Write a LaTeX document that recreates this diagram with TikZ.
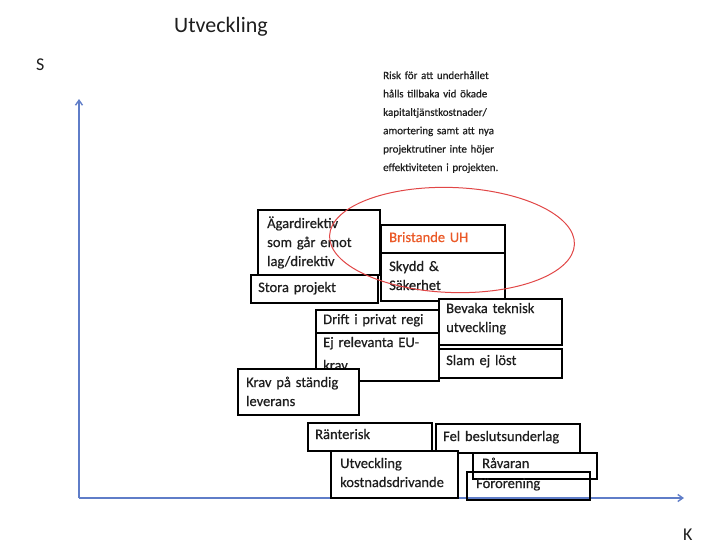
\documentclass[tikz,border=0pt]{standalone}
\usepackage{fontspec}
\setmainfont{Carlito}
\newfontfamily\scanfont[FakeBold=0.5]{Carlito}
\usetikzlibrary{arrows.meta,shapes.geometric}
\definecolor{axisblue}{RGB}{95,125,200}
\definecolor{ovalred}{RGB}{225,70,70}
\definecolor{uhorange}{RGB}{235,90,40}
\definecolor{ink}{RGB}{30,30,30}
\tikzset{
  boxshape/.style={draw=black, line width=1.8pt, fill=white, anchor=north west, inner sep=0pt, minimum width=#1},
  boxopen/.style={draw=black, line width=1.8pt, fill=none, anchor=north west, inner sep=0pt},
  boxtext/.style={anchor=base west, inner sep=0pt, text width=150pt, align=left, text=ink,
    font=\scanfont\fontsize{14.5}{19}\selectfont},
  note/.style={anchor=base west, inner sep=0pt, text width=200pt, align=left, text=ink,
    font=\scanfont\fontsize{11}{18.4}\selectfont},
  axis/.style={draw=axisblue, line width=1.4pt, -{Straight Barb[length=5pt,width=7pt]}},
}
\begin{document}
\begin{tikzpicture}[x=1pt,y=-1pt]
\useasboundingbox (0,0) rectangle (704,547);
% labels
\node[anchor=base west, inner sep=0pt, font=\fontsize{22}{24}\selectfont, text=ink] (title) at (174,32) {Utveckling};
\node[anchor=base west, inner sep=0pt, font=\fontsize{18}{20}\selectfont, text=ink] (slab) at (36,70) {S};
\node[anchor=base west, inner sep=0pt, font=\fontsize{18}{20}\selectfont, text=ink] (klab) at (683,540) {K};
% axes
\coordinate (origin) at (79,498);
\coordinate (ytop) at (79,99);
\coordinate (xend) at (684,498);
\draw[axis] (origin) -- (ytop);
\draw[axis] (origin) -- (xend);
% note
\node[note] (risk) at (383,79) {Risk för att underhållet\\hålls tillbaka vid ökade\\kapitaltjänstkostnader/\\amortering samt att nya\\projektrutiner inte höjer\\effektiviteten i projekten.};
% boxes
\node[boxshape={122pt}, minimum height=65pt] (ag) at (257,209) {};
\node[boxtext] (agt) at (267,228) {Ägardirektiv\\som går emot\\lag/direktiv};
\node[boxshape={127pt}, minimum height=28pt] (stora) at (250,274) {};
\node[boxtext] (storat) at (258,292) {Stora projekt};
\node[boxshape={124pt}, minimum height=28pt] (brist) at (380,224) {};
\node[boxtext, text=uhorange] (bristt) at (389,242) {Bristande UH};
\node[boxshape={124pt}, minimum height=48pt] (skydd) at (380,252) {};
\node[boxtext] (skyddt) at (389,271) {Skydd \&\\Säkerhet};
\node[boxshape={123pt}, minimum height=46pt] (bevaka) at (438,298) {};
\node[boxtext] (bevakat) at (446,313) {Bevaka teknisk\\utveckling};
\node[boxshape={123pt}, minimum height=29pt] (slam) at (438,348) {};
\node[boxtext] (slamt) at (446,365) {Slam ej löst};
\node[boxshape={123pt}, minimum height=48pt] (eu) at (315,332) {};
\node[boxtext] (eut) at (323,347) {Ej relevanta EU-\\[4pt]krav};
\node[boxshape={123pt}, minimum height=23pt] (drift) at (315,309) {};
\node[boxtext] (driftt) at (323,324) {Drift i privat regi};
\node[boxshape={121pt}, minimum height=46pt] (krav) at (237,368) {};
\node[boxtext] (kravt) at (246,387) {Krav på ständig\\leverans};
\node[boxshape={124pt}, minimum height=28pt] (rant) at (307,422) {};
\node[boxtext] (rantt) at (315,439) {Ränterisk};
\node[boxshape={144pt}, minimum height=29pt] (fel) at (435,423) {};
\node[boxtext] (felt) at (443,441) {Fel beslutsunderlag};
\node[boxshape={127pt}, minimum height=47pt] (utv) at (330,450) {};
\node[boxtext] (utvt) at (340,468) {Utveckling\\kostnadsdrivande};
\node[boxopen, minimum width=124pt, minimum height=26pt] (rav) at (472,452) {};
\node[boxtext] (ravt) at (482,468) {Råvaran};
\node[boxopen, minimum width=123pt, minimum height=28pt] (foro) at (466,471) {};
\node[boxtext] (forot) at (476,488) {Förorening};
% oval
\node[draw=ovalred, line width=1pt, ellipse, minimum width=245pt, minimum height=105pt, rotate=-2] (oval) at (452,240) {};
\end{tikzpicture}
\end{document}
